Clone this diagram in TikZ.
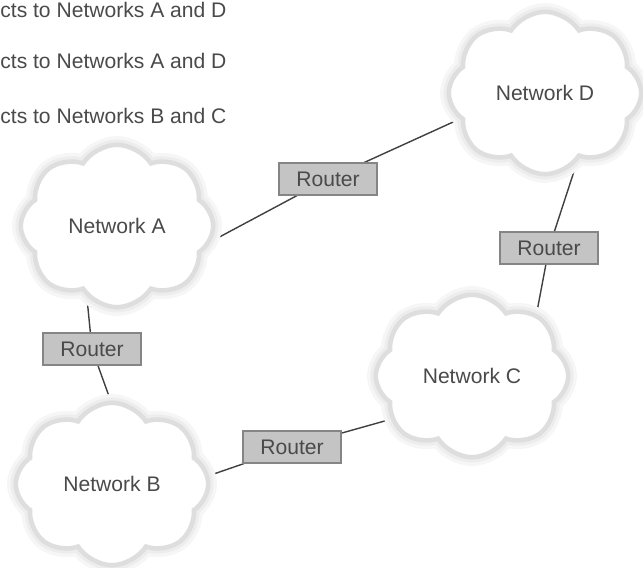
\documentclass[tikz,border=0pt]{standalone}
\usepackage{fontspec}
\setmainfont{Liberation Sans}
\usetikzlibrary{shapes.symbols,backgrounds}
\definecolor{inkgray}{HTML}{4A4A4A}
\definecolor{routerfill}{HTML}{C4C4C4}
\definecolor{routeredge}{HTML}{858585}

\begin{document}
\begin{tikzpicture}[
    x=0.02cm, y=-0.02cm,
    font=\fontsize{12}{14}\selectfont,
    text=inkgray,
    net/.style={
        cloud,
        cloud puffs=8,
        cloud puff arc=115,
        cloud ignores aspect,
        minimum width=3.85cm,
        minimum height=3.25cm,
        inner sep=0pt,
        preaction={draw=gray!7, line width=10pt},
        preaction={draw=gray!14, line width=6pt},
        draw=gray!26,
        line width=2.6pt,
        fill=white
    },
    router/.style={
        draw=routeredge,
        fill=routerfill,
        line width=0.6pt,
        minimum width=1.96cm,
        minimum height=0.64cm,
        inner sep=0pt
    },
    link/.style={draw=black!75, line width=0.8pt, shorten <=-2pt, shorten >=-2pt},
    caption/.style={anchor=base west, inner sep=0pt}
]
\useasboundingbox (0,0) rectangle (643,568);

\node[caption] (capA) at (0,17) {cts to Networks A and D};
\node[caption] (capB) at (0,69) {cts to Networks A and D};
\node[caption] (capC) at (0,123) {cts to Networks B and C};

\node[net] (netA) at (117,226) {Network A};
\node[net] (netB) at (112,484) {Network B};
\node[net] (netC) at (472,376) {Network C};
\node[net] (netD) at (545,93) {Network D};

\node[router] (rAD) at (328,179) {Router};
\node[router] (rDC) at (549,248) {Router};
\node[router] (rAB) at (92,349) {Router};
\node[router] (rBC) at (292,447) {Router};

\begin{scope}[on background layer]
\draw[link] (netA.-9) -- (rAD) -- (netD.197);
\draw[link] (netD.-65) -- (rDC) -- (netC.44);
\draw[link] (netA.-113) -- (rAB) -- (netB.91);
\draw[link] (netB.5) -- (rBC) -- (netC.208);
\end{scope}

\end{tikzpicture}
\end{document}
